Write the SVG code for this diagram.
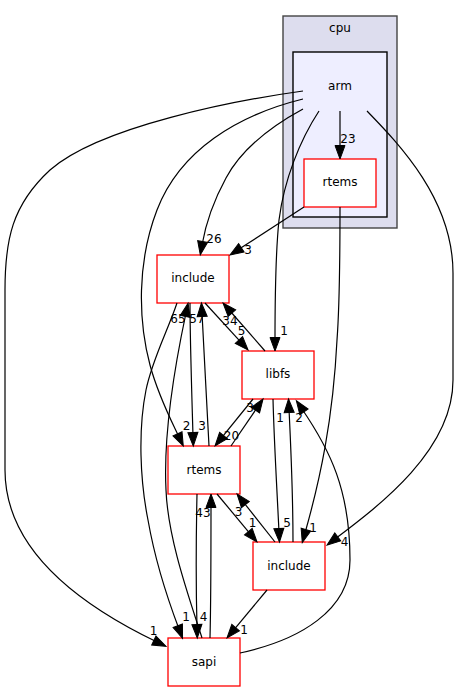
<svg xmlns="http://www.w3.org/2000/svg" width="459" height="692" viewBox="0 0 459 692">
<style>
text{font-family:"DejaVu Sans","Liberation Sans",sans-serif;font-size:12px;fill:#000;text-anchor:middle}
.node{fill:#fff;stroke:#ff0000;stroke-width:1.3}
.edge{fill:none;stroke:#000;stroke-width:1.2}
</style>
<defs>
<marker id="ah" markerUnits="userSpaceOnUse" markerWidth="15" markerHeight="11" refX="4" refY="5.5" orient="auto" viewBox="0 0 15 11" overflow="visible">
<path d="M0.5,0.5 L14,5.5 L0.5,10.5 Z" fill="#000" stroke="#000" stroke-width="1"/>
</marker>
</defs>
<g id="cluster_cpu">
<rect x="283" y="16" width="114" height="212" fill="#ddddee" stroke="#444444" stroke-width="1.4"/>
<text x="340" y="32">cpu</text>
</g>
<g id="cluster_arm">
<rect x="293" y="52" width="94" height="165" fill="#eeeeff" stroke="#000" stroke-width="1.4"/>
<text x="340" y="90">arm</text>
</g>
<g id="node_cpu_arm_rtems">
<rect class="node" x="304" y="159" width="72" height="48"/>
<text x="340" y="186">rtems</text>
</g>
<g id="node_include_top">
<rect class="node" x="157" y="255" width="72" height="48"/>
<text x="193" y="281.5">include</text>
</g>
<g id="node_libfs">
<rect class="node" x="242" y="351" width="72" height="48"/>
<text x="278" y="377.5">libfs</text>
</g>
<g id="node_rtems">
<rect class="node" x="168" y="446" width="72" height="48"/>
<text x="204" y="473.5">rtems</text>
</g>
<g id="node_include_bottom">
<rect class="node" x="253" y="542" width="72" height="48"/>
<text x="289" y="569.5">include</text>
</g>
<g id="node_sapi">
<rect class="node" x="168" y="638" width="72" height="48"/>
<text x="204" y="666">sapi</text>
</g>
<g id="connectors">
<path class="edge" marker-end="url(#ah)" d="M340,111 L340,149"/>
<path class="edge" marker-end="url(#ah)" d="M303,109 C268,128 240,152 226,178 C214,200 206,222 202,245"/>
<path class="edge" marker-end="url(#ah)" d="M304,207 L238.4,249.6"/>
<path class="edge" marker-end="url(#ah)" d="M319,111 C300,140 284,180 279,220 C275,258 275,300 275,341"/>
<path class="edge" marker-end="url(#ah)" d="M303,99 C238,115 180,150 157,210 C137,262 138,320 150,365 C158,395 170,418 179,437"/>
<path class="edge" marker-end="url(#ah)" d="M303,91 C238,100 100,126 50,170 C12,205 5,240 5,290 L5,470 C5,550 80,605 157,642"/>
<path class="edge" marker-end="url(#ah)" d="M367,111 C400,145 453,200 453,273 L453,380 C453,450 380,505 335,539"/>
<path class="edge" marker-end="url(#ah)" d="M340,207 C340,260 340,300 337,340 C333,420 320,480 305,533"/>
<path class="edge" marker-end="url(#ah)" d="M177,303 C168,330 152,360 146,390 C138,430 140,480 148,520 C155,560 168,600 179,629"/>
<path class="edge" marker-end="url(#ah)" d="M202,638 C190,600 168,540 166,490 C163,430 176,360 186,313"/>
<path class="edge" marker-end="url(#ah)" d="M190,303 C190,340 192,400 193,436"/>
<path class="edge" marker-end="url(#ah)" d="M209,446 C207,410 204,350 202,313"/>
<path class="edge" marker-end="url(#ah)" d="M205,303 L241.3,342.6"/>
<path class="edge" marker-end="url(#ah)" d="M265,351 L229.6,310.5"/>
<path class="edge" marker-end="url(#ah)" d="M253,399 L221.3,438.2"/>
<path class="edge" marker-end="url(#ah)" d="M231,446 L257.4,407.3"/>
<path class="edge" marker-end="url(#ah)" d="M273,399 C274,440 277,490 279,532"/>
<path class="edge" marker-end="url(#ah)" d="M293,542 C293,500 291,450 289,409"/>
<path class="edge" marker-end="url(#ah)" d="M240,653 C300,640 350,610 350,560 C350,490 330,450 302,409"/>
<path class="edge" marker-end="url(#ah)" d="M267,590 L233.4,630.3"/>
<path class="edge" marker-end="url(#ah)" d="M217,494 L250.6,534.3"/>
<path class="edge" marker-end="url(#ah)" d="M275,542 L243.2,501.8"/>
<path class="edge" marker-end="url(#ah)" d="M197,494 C196,540 196,590 197,628"/>
<path class="edge" marker-end="url(#ah)" d="M210,638 C211,600 211,550 211,504"/>
</g>
<g id="edge_labels">
<text x="348" y="142.5">23</text>
<text x="214" y="243">26</text>
<text x="248" y="254">3</text>
<text x="284" y="335">1</text>
<text x="186.5" y="430">2</text>
<text x="153.5" y="635">1</text>
<text x="344.5" y="546">4</text>
<text x="313" y="532">1</text>
<text x="186" y="621">1</text>
<text x="178" y="322.5">65</text>
<text x="202" y="430">3</text>
<text x="197" y="322.5">57</text>
<text x="241.5" y="335">5</text>
<text x="230" y="325">34</text>
<text x="231.5" y="440">20</text>
<text x="250" y="412">3</text>
<text x="287" y="527">5</text>
<text x="280" y="422">1</text>
<text x="299" y="422">2</text>
<text x="244" y="634">1</text>
<text x="252.5" y="527">1</text>
<text x="238.5" y="516">3</text>
<text x="203.5" y="621">4</text>
<text x="203" y="516.5">43</text>
</g>
</svg>
